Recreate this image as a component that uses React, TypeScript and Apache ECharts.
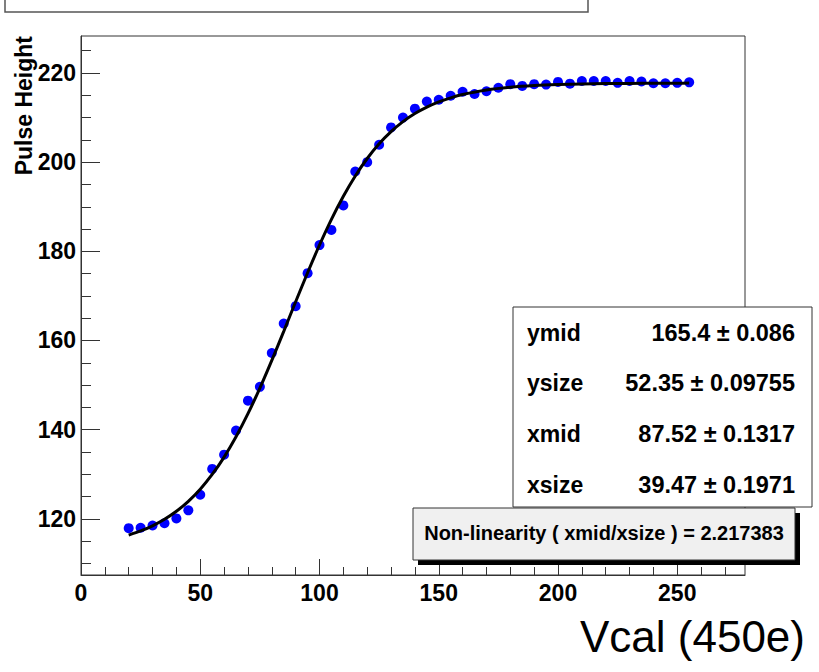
import React, { useEffect, useRef } from "react";
import * as echarts from "echarts";

// ---- data ----
const vcal = [
  20, 25, 30, 35, 40, 45, 50, 55, 60, 65, 70, 75, 80, 85, 90, 95,
  100, 105, 110, 115, 120, 125, 130, 135, 140, 145, 150, 155, 160, 165, 170, 175,
  180, 185, 190, 195, 200, 205, 210, 215, 220, 225, 230, 235, 240, 245, 250, 255,
];
const pulseHeight = [
  117.9, 118.0, 118.5, 119.0, 120.1, 121.9, 125.4, 131.2, 134.4, 139.8, 146.5, 149.6, 157.2, 163.8, 167.7, 175.1,
  181.4, 184.8, 190.3, 197.9, 200.0, 203.9, 207.8, 210.0, 212.0, 213.6, 214.0, 214.9, 215.8, 215.3, 215.9, 216.7,
  217.5, 217.1, 217.5, 217.4, 218.0, 217.6, 218.2, 218.2, 218.2, 217.8, 218.2, 218.1, 217.7, 217.7, 217.8, 217.9,
];

// fitted curve
const fitX = [
  20, 25, 30, 35, 40, 45, 50, 55, 60, 65, 70, 75, 80, 85, 90, 95, 100, 105, 110, 115, 120,
  125, 130, 135, 140, 145, 150, 155, 160, 170, 180, 190, 200, 210, 220, 230, 240, 250, 255,
];
const fitY = [
  116.36, 117.28, 118.44, 119.89, 121.69, 123.93, 126.66, 129.95, 133.85, 138.4, 143.58, 149.33, 155.54, 162.06,
  168.68, 175.2, 181.42, 187.18, 192.36, 196.91, 200.82, 204.12, 206.85, 209.09, 210.9, 212.35, 213.51, 214.43,
  215.16, 216.17, 216.79, 217.17, 217.4, 217.54, 217.62, 217.67, 217.7, 217.72, 217.73,
];

const xMajorTicks = [0, 50, 100, 150, 200, 250];
const xMinorTicks = [10, 20, 30, 40, 60, 70, 80, 90, 110, 120, 130, 140, 160, 170, 180, 190, 210, 220, 230, 240, 260, 270];
const yMajorTicks = [120, 140, 160, 180, 200, 220];
const yMinorTicks = [110, 115, 125, 130, 135, 145, 150, 155, 165, 170, 175, 185, 190, 195, 205, 210, 215, 225];

const statNames = ["ymid", "ysize", "xmid", "xsize"];
const statValues = ["165.4", "52.35", "87.52", "39.47"];
const statErrors = ["0.086", "0.09755", "0.1317", "0.1971"];
const nonLinearityText = "Non-linearity ( xmid/xsize ) = 2.217383";
const xTitle = "Vcal (450e)";
const yTitle = "Pulse Height";

const X_MIN = 0;
const X_MAX = 278.4;
const Y_MIN = 107.4;
const Y_MAX = 228.3;

const FONT = "'Liberation Sans', Arial, Helvetica, sans-serif";
const AXIS_COLOR = "#333";

export default function App() {
  const ref = useRef<HTMLDivElement>(null);

  useEffect(() => {
    if (!ref.current) return;
    const chart = echarts.init(ref.current, null, { renderer: "svg" });

    const statGraphics: any[] = [];
    const rowY = [333, 383, 434, 485];
    statNames.forEach((n, i) => {
      statGraphics.push({
        type: "text",
        x: 527,
        y: rowY[i],
        z: 20,
        style: {
          text: n,
          fill: "#000",
          font: `bold 23px ${FONT}`,
          textAlign: "left",
          textVerticalAlign: "middle",
        },
      });
      statGraphics.push({
        type: "text",
        x: 795,
        y: rowY[i],
        z: 20,
        style: {
          text: `${statValues[i]} \u00b1 ${statErrors[i]}`,
          fill: "#000",
          font: `bold 23.5px ${FONT}`,
          textAlign: "right",
          textVerticalAlign: "middle",
        },
      });
    });

    const option: any = {
      animation: false,
      backgroundColor: "#fff",
      grid: {
        left: 81,
        top: 36,
        right: 74,
        bottom: 97,
        show: true,
        borderColor: AXIS_COLOR,
        borderWidth: 1,
        backgroundColor: "#fff",
      },
      xAxis: [
        {
          type: "value",
          position: "bottom",
          min: X_MIN,
          max: X_MAX,
          axisLine: { show: true, lineStyle: { color: AXIS_COLOR, width: 1 } },
          axisTick: { show: true, inside: true, length: 16, customValues: xMajorTicks, lineStyle: { color: AXIS_COLOR } },
          axisLabel: {
            customValues: xMajorTicks,
            fontSize: 23,
            fontWeight: "bold",
            fontFamily: FONT,
            color: "#000",
            margin: 6,
          },
          splitLine: { show: false },
        },
        {
          type: "value",
          position: "bottom",
          min: X_MIN,
          max: X_MAX,
          axisLine: { show: false },
          axisTick: { show: true, inside: true, length: 8, customValues: xMinorTicks, lineStyle: { color: AXIS_COLOR } },
          axisLabel: { show: false },
          splitLine: { show: false },
        },
      ],
      yAxis: [
        {
          type: "value",
          position: "left",
          min: Y_MIN,
          max: Y_MAX,
          axisLine: { show: true, lineStyle: { color: AXIS_COLOR, width: 1 } },
          axisTick: { show: true, inside: true, length: 19, customValues: yMajorTicks, lineStyle: { color: AXIS_COLOR } },
          axisLabel: {
            customValues: yMajorTicks,
            fontSize: 23,
            fontWeight: "bold",
            fontFamily: FONT,
            color: "#000",
            margin: 5,
          },
          splitLine: { show: false },
        },
        {
          type: "value",
          position: "left",
          min: Y_MIN,
          max: Y_MAX,
          axisLine: { show: false },
          axisTick: { show: true, inside: true, length: 10, customValues: yMinorTicks, lineStyle: { color: AXIS_COLOR } },
          axisLabel: { show: false },
          splitLine: { show: false },
        },
      ],
      series: [
        {
          type: "scatter",
          xAxisIndex: 0,
          yAxisIndex: 0,
          data: vcal.map((x, i) => [x, pulseHeight[i]]),
          symbol: "circle",
          symbolSize: 10,
          itemStyle: { color: "#0000ff", opacity: 1 },
          z: 2,
        },
        {
          type: "line",
          xAxisIndex: 0,
          yAxisIndex: 0,
          data: fitX.map((x, i) => [x, fitY[i]]),
          showSymbol: false,
          smooth: 0.3,
          lineStyle: { color: "#000", width: 3 },
          z: 3,
        },
      ],
      graphic: [
        {
          type: "rect",
          z: 10,
          shape: { x: 5, y: -20, width: 583, height: 32 },
          style: { fill: "none", stroke: "#555", lineWidth: 1.5 },
        },
        {
          type: "text",
          x: 24,
          y: 36,
          rotation: Math.PI / 2,
          z: 10,
          style: {
            text: yTitle,
            fill: "#000",
            font: `bold 23px ${FONT}`,
            textAlign: "right",
            textVerticalAlign: "middle",
          },
        },
        {
          type: "text",
          x: 805,
          y: 636,
          z: 10,
          style: {
            text: xTitle,
            fill: "#000",
            font: `44px ${FONT}`,
            textAlign: "right",
            textVerticalAlign: "middle",
          },
        },
        {
          type: "rect",
          z: 15,
          shape: { x: 513, y: 307, width: 299, height: 200 },
          style: { fill: "#fff", stroke: "#333", lineWidth: 1 },
        },
        ...statGraphics,
        {
          type: "rect",
          z: 15,
          shape: { x: 418, y: 513, width: 382, height: 52 },
          style: { fill: "#000" },
        },
        {
          type: "rect",
          z: 16,
          shape: { x: 413, y: 508, width: 382, height: 52 },
          style: { fill: "#f0f0f0", stroke: "#333", lineWidth: 1 },
        },
        {
          type: "text",
          x: 604,
          y: 533,
          z: 17,
          style: {
            text: nonLinearityText,
            fill: "#000",
            font: `bold 20px ${FONT}`,
            textAlign: "center",
            textVerticalAlign: "middle",
          },
        },
      ],
    };

    chart.setOption(option);
    return () => chart.dispose();
  }, []);

  return (
    <div
      ref={ref}
      style={{ position: "absolute", left: 0, top: 0, width: 819, height: 672 }}
    />
  );
}
